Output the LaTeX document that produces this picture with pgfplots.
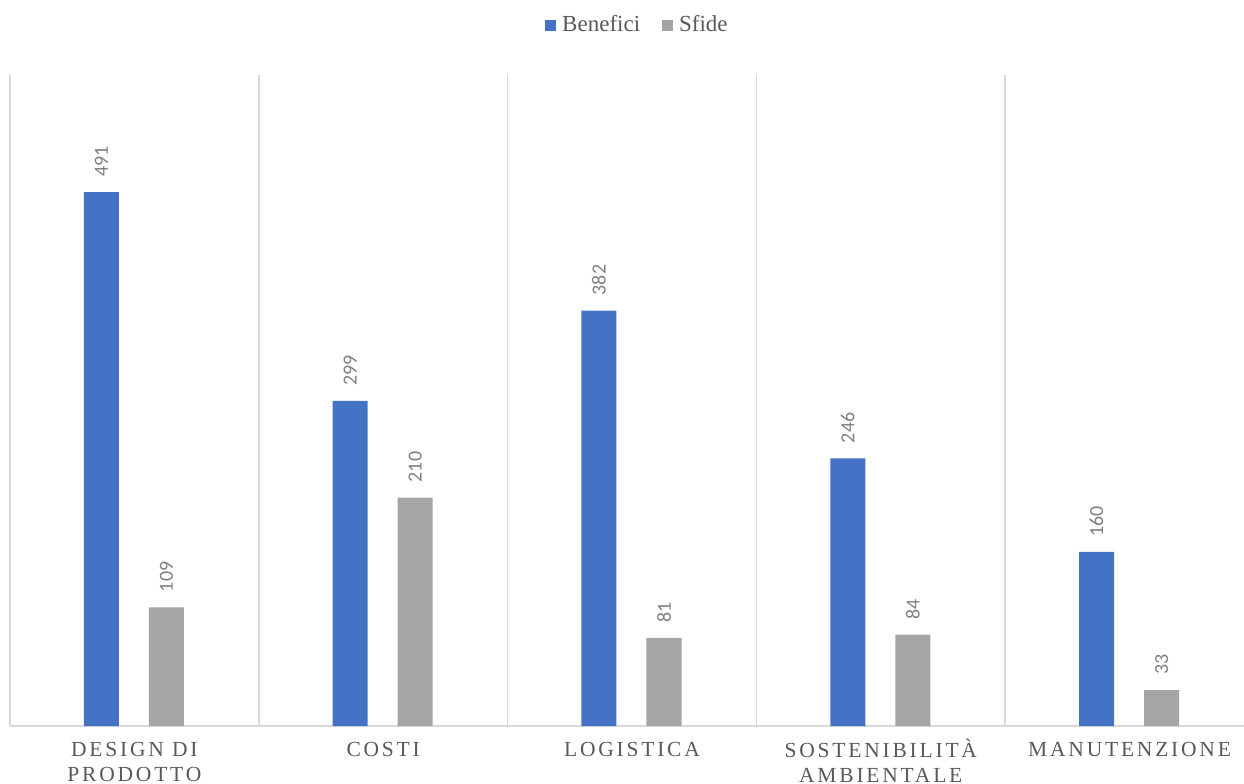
\documentclass[border=0pt]{standalone}
\usepackage{fontspec}
\setmainfont{Liberation Serif}
\newfontfamily\catfont[LetterSpace=13]{Liberation Serif}
\newfontfamily\lblfont{Carlito}
\usepackage{pgfplots}
\pgfplotsset{compat=1.18}
\definecolor{benblue}{HTML}{4472C4}
\definecolor{sfgray}{HTML}{A5A5A5}
\definecolor{gridc}{HTML}{D9D9D9}
\definecolor{txtc}{HTML}{595959}
\definecolor{lblc}{HTML}{7F7F7F}
\pgfplotsset{ybar legend/.style={legend image code/.code={\fill[##1] (0pt,-2.75pt) rectangle (5.5pt,2.75pt);}}}
\begin{document}
\begin{tikzpicture}
\useasboundingbox (0,0) rectangle (622pt,391.5pt);
\begin{axis}[
  at={(5pt,28.5pt)}, anchor=south west,
  scale only axis, width=617pt, height=325.5pt,
  xmin=-0.5, xmax=4.46, ymin=0, ymax=598.6,
  ybar, bar width=0.1407,
  axis line style={draw=none},
  ytick=\empty,
  xtick={0,1,2,3,4},
  xticklabels={{\strut DESIGN DI\\\strut PRODOTTO},{\strut COSTI},{\strut LOGISTICA},{\strut SOSTENIBILITÀ\\\strut AMBIENTALE},{\strut MANUTENZIONE}},
  xticklabel style={font=\catfont\fontsize{10.75}{12.5}\selectfont, text=txtc, align=center, anchor=north, inner sep=0pt, yshift=-6.5pt},
  major tick length=0pt, minor tick length=0pt,
  minor xtick={-0.5,0.5,1.5,2.5,3.5},
  xminorgrids=true,
  minor grid style={draw=gridc, line width=0.85pt},
  extra y ticks={0}, extra y tick labels={},
  extra y tick style={grid=major, major grid style={draw=gridc, line width=1pt}},
  /pgf/number format/assume math mode=true,
  nodes near coords,
  every node near coord/.append style={font=\lblfont\fontsize{10}{12}\selectfont, text=lblc, rotate=90, anchor=west, inner xsep=7.5pt, inner ysep=0pt},
  legend style={at={(axis description cs:0.5093,1.0765)}, anchor=center, draw=none, fill=none, legend columns=2, font=\fontsize{11.5}{13}\selectfont, text=txtc, /tikz/every even column/.append style={column sep=9pt}, /tikz/every odd column/.append style={column sep=1pt}},
]
\addplot[fill=benblue, draw=none, bar shift=-0.1327] coordinates {(0,491) (1,299) (2,382) (3,246) (4,160)};
\addlegendentry{Benefici}
\addplot[fill=sfgray, draw=none, bar shift=0.1287] coordinates {(0,109) (1,210) (2,81) (3,84) (4,33)};
\addlegendentry{Sfide}
\end{axis}
\end{tikzpicture}
\end{document}
